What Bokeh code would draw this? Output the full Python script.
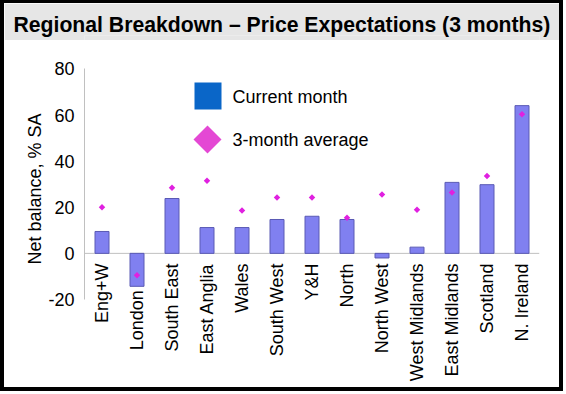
import numpy as np
from bokeh.plotting import figure
from bokeh.layouts import column
from bokeh.core.properties import value
from bokeh.models import (Range1d, FactorRange, Span, BoxAnnotation, PolyAnnotation,
                          Label, LabelSet, ColumnDataSource, FixedTicker)
from bokeh.embed import file_html
from bokeh.resources import INLINE

# ---- data ----
regions = ["Eng+W", "London", "South East", "East Anglia", "Wales", "South West",
           "Y&H", "North", "North West", "West Midlands", "East Midlands",
           "Scotland", "N. Ireland"]
current_month = [9.5, -14.3, 23.8, 11.2, 11.2, 14.7, 16.1, 14.7, -2.0, 2.7, 30.8, 29.8, 64.1]
three_month_avg = [20.0, -9.5, 28.5, 31.5, 18.6, 24.2, 24.2, 15.4, 25.5, 18.9, 26.4, 33.6, 60.4]
y_ticks = [-20, 0, 20, 40, 60, 80]

title_text = "Regional Breakdown \u2013 Price Expectations (3 months)"
y_title = "Net balance, % SA"
legend_current = "Current month"
legend_avg = "3-month average"

FONT = "Liberation Sans"
W = 555
TITLE_H = 37
MAIN_H = 347
BAND = "#e6e6e6"

# ---- title strip ----
t = figure(width=W, height=TITLE_H, x_range=Range1d(0, 1), y_range=Range1d(0, 1),
           output_backend="svg", toolbar_location=None, title=title_text,
           min_border_left=80, min_border_right=20,
           min_border_top=32, min_border_bottom=0)
t.axis.visible = False
t.grid.visible = False
t.outline_line_color = None
t.background_fill_color = BAND
t.border_fill_color = BAND
t.title.align = "left"
t.title.offset = -71
t.title.standoff = 0
t.title.text_font = FONT
t.title.text_font_style = "bold"
t.title.text_font_size = "21.2px"
t.title.text_color = "black"

# ---- main chart ----
p = figure(width=W, height=MAIN_H,
           x_range=FactorRange(*regions, range_padding=0),
           y_range=Range1d(-58.2, 92.36),
           output_backend="svg", toolbar_location=None,
           min_border_left=80, min_border_right=20,
           min_border_top=0, min_border_bottom=0)
p.outline_line_color = None
p.xgrid.visible = False
p.ygrid.visible = False
p.xaxis.visible = False

ya = p.yaxis[0]
ya.ticker = FixedTicker(ticks=y_ticks)
ya.bounds = (y_ticks[0], y_ticks[-1])
ya.major_label_overrides = {v: str(v) for v in y_ticks}
ya.major_tick_line_color = None
ya.minor_tick_line_color = None
ya.axis_line_color = "#c0c0c0"
ya.major_label_text_font = FONT
ya.major_label_text_font_size = "18px"
ya.major_label_text_color = "black"
ya.major_label_standoff = 4
# the axis label is centred on the whole frame; lead it with no-break spaces so
# that it sits centred on the -20..80 part of the axis, as in the reference
ya.axis_label = "\u00a0" * 10 + y_title
ya.axis_label_text_font = FONT
ya.axis_label_text_font_style = "normal"
ya.axis_label_text_font_size = "18px"
ya.axis_label_text_color = "black"
ya.axis_label_standoff = 0

# zero line
p.add_layout(Span(location=0, dimension="width", line_color="#c0c0c0", line_width=1,
                  level="underlay"))

# bars and averages
p.vbar(x=regions, top=current_month, width=0.4, fill_color="#8080f0",
       line_color="#5a5ab4", line_width=1)
p.scatter(x=regions, y=three_month_avg, marker="square", angle=np.pi / 4, size=4.6,
          fill_color="#e020e0", line_color=None)

# category labels, just below zero or below a negative bar
cur = np.array(current_month)
label_y = np.minimum(-4.4, cur - 1.7)
lab_src = ColumnDataSource(dict(x=regions, y=label_y, text=regions))
p.add_layout(LabelSet(x="x", y="y", text="text", source=lab_src, angle=np.pi / 2,
                      text_align="right", text_baseline="middle",
                      text_font=value(FONT), text_font_size=value("18px"),
                      text_color="black"))

# legend (drawn as annotations inside the frame)
p.add_layout(BoxAnnotation(left=190, right=217, top=42, bottom=69,
                           left_units="canvas", right_units="canvas",
                           top_units="canvas", bottom_units="canvas",
                           fill_color="#0a66c8", fill_alpha=1, line_color=None))
cx, cy, r = 203, 99, 14
p.add_layout(PolyAnnotation(xs=[cx - r, cx, cx + r, cx], ys=[cy, cy - r, cy, cy + r],
                            xs_units="canvas", ys_units="canvas",
                            fill_color="#e448d4", fill_alpha=1, line_color=None))
p.add_layout(Label(x=228, y=56, x_units="canvas", y_units="canvas", text=legend_current,
                   text_font=FONT, text_font_size="18px", text_baseline="middle",
                   text_color="black"))
p.add_layout(Label(x=228, y=99, x_units="canvas", y_units="canvas", text=legend_avg,
                   text_font=FONT, text_font_size="18px", text_baseline="middle",
                   text_color="black"))

layout = column(t, p, spacing=0,
                styles={"border-style": "solid", "border-color": "black",
                        "border-width": "3px 4px 4px 4px"})

open("out.html", "w").write(file_html(layout, INLINE))
